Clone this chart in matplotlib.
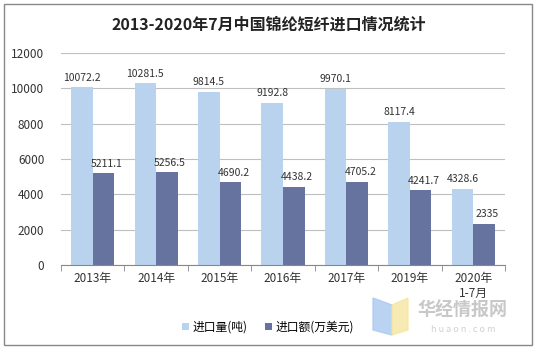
import numpy as np
import matplotlib
matplotlib.use('Agg')
import matplotlib.pyplot as plt
from matplotlib.patches import Rectangle, Polygon

plt.rcParams['font.family'] = ['Noto Sans CJK SC', 'DejaVu Sans']

categories = ['2013年', '2014年', '2015年', '2016年', '2017年', '2019年', '2020年\n1-7月']
volume = [10072.2, 10281.5, 9814.5, 9192.8, 9970.1, 8117.4, 4328.6]
value = [5211.1, 5256.5, 4690.2, 4438.2, 4705.2, 4241.7, 2335]
volume_labels = ['10072.2', '10281.5', '9814.5', '9192.8', '9970.1', '8117.4', '4328.6']
value_labels = ['5211.1', '5256.5', '4690.2', '4438.2', '4705.2', '4241.7', '2335']

c_light = '#B9D3EE'
c_dark = '#67739F'

fig = plt.figure(figsize=(5.37, 3.55), dpi=100)
ax = fig.add_axes([61 / 537, 1 - 265 / 355, 444 / 537, 212 / 355])

x = np.arange(len(categories))
w = 0.34
ax.bar(x - w / 2, volume, w, color=c_light, label='进口量(吨)', zorder=2)
ax.bar(x + w / 2, value, w, color=c_dark, label='进口额(万美元)', zorder=2)

for i in range(len(x)):
    ax.text(x[i] - w / 2, volume[i] + 250, volume_labels[i], ha='center', va='bottom',
            fontsize=7.5, color='#333333')
    ax.text(x[i] + w / 2 + 0.05, value[i] + 250, value_labels[i], ha='center', va='bottom',
            fontsize=7.5, color='#333333')

ax.set_xlim(-0.5, len(categories) - 0.5)
ax.set_ylim(0, 12000)
ax.set_yticks(range(0, 12001, 2000))
ax.yaxis.grid(True, color='#BFBFBF', linewidth=0.8, zorder=0)
ax.tick_params(axis='y', length=0, labelsize=8.5, colors='#333333', pad=12)
ax.set_xticks(x)
ax.set_xticklabels(categories, fontsize=8.5, color='#333333')
ax.set_xticks(np.arange(-0.5, len(categories)), minor=True)
ax.tick_params(axis='x', which='major', length=0, pad=5)
ax.tick_params(axis='x', which='minor', length=4, color='#888888')
for s in ['top', 'right', 'left']:
    ax.spines[s].set_visible(False)
ax.spines['bottom'].set_color('#888888')

fig.text(0.5, 1 - 25 / 355, '2013-2020年7月中国锦纶短纤进口情况统计', ha='center', va='center',
         fontsize=11.5, fontweight='bold', color='#222222')

ax.legend(loc='center', bbox_to_anchor=(268 / 537, 1 - 327 / 355), bbox_transform=fig.transFigure,
          ncol=2, frameon=False, fontsize=8.5, handlelength=0.6, handleheight=0.6,
          handletextpad=0.3, columnspacing=1.5)

# watermark
fig.patches.append(Polygon([[373 / 537, 1 - 298 / 355], [392 / 537, 1 - 305 / 355],
                            [392 / 537, 1 - 335 / 355], [373 / 537, 1 - 330 / 355]],
                           closed=True, transform=fig.transFigure, color='#A9C8F0', alpha=0.8))
fig.patches.append(Polygon([[392 / 537, 1 - 305 / 355], [408 / 537, 1 - 298 / 355],
                            [408 / 537, 1 - 330 / 355], [392 / 537, 1 - 335 / 355]],
                           closed=True, transform=fig.transFigure, color='#F5E7A0', alpha=0.8))
fig.text(463 / 537, 1 - 310 / 355, '华经情报网', ha='center', va='center', fontsize=13,
         color='#C8C8C8', fontweight='bold')
fig.text(463 / 537, 1 - 329 / 355, 'h u a o n . c o m', ha='center', va='center', fontsize=6.5,
         color='#D0D0D0')

fig.patches.append(Rectangle((4 / 537, 1 - 345 / 355), 528 / 537, 341 / 355, transform=fig.transFigure,
                             fill=False, edgecolor='#888888', linewidth=1))

fig.savefig('out.png', dpi=100)
